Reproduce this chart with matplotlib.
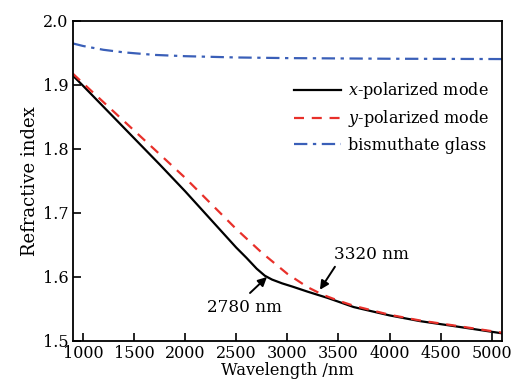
import numpy as np
import matplotlib
matplotlib.use("Agg")
import matplotlib.pyplot as plt

plt.rcParams["font.family"] = ["DejaVu Serif"]
plt.rcParams["mathtext.fontset"] = "dejavuserif"

# =========================
# Data
# =========================
wl_x = [900, 1000, 1250, 1500, 1750, 2000, 2250, 2500, 2600, 2700, 2780, 2850,
        2950, 3050, 3200, 3400, 3650, 4000, 4300, 4600, 4850, 5100]
n_x = [1.915, 1.899, 1.858, 1.817, 1.776, 1.734, 1.690, 1.646, 1.630, 1.613, 1.602, 1.596,
       1.590, 1.585, 1.577, 1.567, 1.553, 1.540, 1.531, 1.524, 1.518, 1.512]

wl_y = [900, 1000, 1250, 1500, 1750, 2000, 2250, 2500, 2750, 3000, 3200,
        3350, 3500, 3650, 4000, 4300, 4600, 4850, 5100]
n_y = [1.918, 1.903, 1.866, 1.829, 1.792, 1.755, 1.715, 1.675, 1.638, 1.605, 1.584,
       1.572, 1.563, 1.555, 1.541, 1.532, 1.525, 1.519, 1.513]

wl_glass = [900, 1000, 1200, 1400, 1700, 2000, 2500, 3000, 3500, 4000, 4500, 5100]
n_glass = [1.965, 1.961, 1.955, 1.951, 1.947, 1.945, 1.943, 1.942, 1.9415, 1.941,
           1.9408, 1.9405]

labels = [r"$x$-polarized mode", r"$y$-polarized mode", "bismuthate glass"]
xticks = [1000, 1500, 2000, 2500, 3000, 3500, 4000, 4500, 5000]
yticks = [1.5, 1.6, 1.7, 1.8, 1.9, 2.0]

# =========================
# Plot
# =========================
fig = plt.figure(figsize=(5.18, 3.85), dpi=100)
ax = fig.add_axes([0.1403, 0.1143, 0.8287, 0.8312])

ax.plot(wl_x, n_x, color="black", lw=1.6, label=labels[0])
ax.plot(wl_y, n_y, color="#e8302a", lw=1.6, ls=(0, (4.5, 3.5)), label=labels[1])
ax.plot(wl_glass, n_glass, color="#3a5fb8", lw=1.6, ls=(0, (6, 2.5, 1.5, 2.5)),
        label=labels[2])

arrow = dict(arrowstyle="-|>", color="black", lw=1.4, shrinkA=0, shrinkB=0,
             mutation_scale=13)
ax.annotate("", xy=(2801, 1.600), xytext=(2635, 1.575), arrowprops=arrow)
ax.annotate("", xy=(3319, 1.580), xytext=(3466, 1.616), arrowprops=arrow)
ax.text(2581, 1.5516, "2780 nm", ha="center", va="center", fontsize=12.2)
ax.text(3822, 1.6344, "3320 nm", ha="center", va="center", fontsize=12.2)

ax.set_xlim(900, 5100)
ax.set_ylim(1.5, 2.0)
ax.set_xticks(xticks)
ax.set_yticks(yticks)
ax.tick_params(direction="in", length=6, width=1.2, labelsize=11.5,
               top=False, right=False, pad=3)
for s in ax.spines.values():
    s.set_linewidth(1.3)

ax.set_xlabel("Wavelength /nm", fontsize=11.7, labelpad=0)
ax.set_ylabel("Refractive index", fontsize=13, labelpad=3)

ax.legend(loc="upper left", bbox_to_anchor=(0.49, 0.85), frameon=False,
          fontsize=11.5, handlelength=2.9, handletextpad=0.45,
          labelspacing=0.45, borderpad=0.2)

fig.savefig("out.png", dpi=100)
